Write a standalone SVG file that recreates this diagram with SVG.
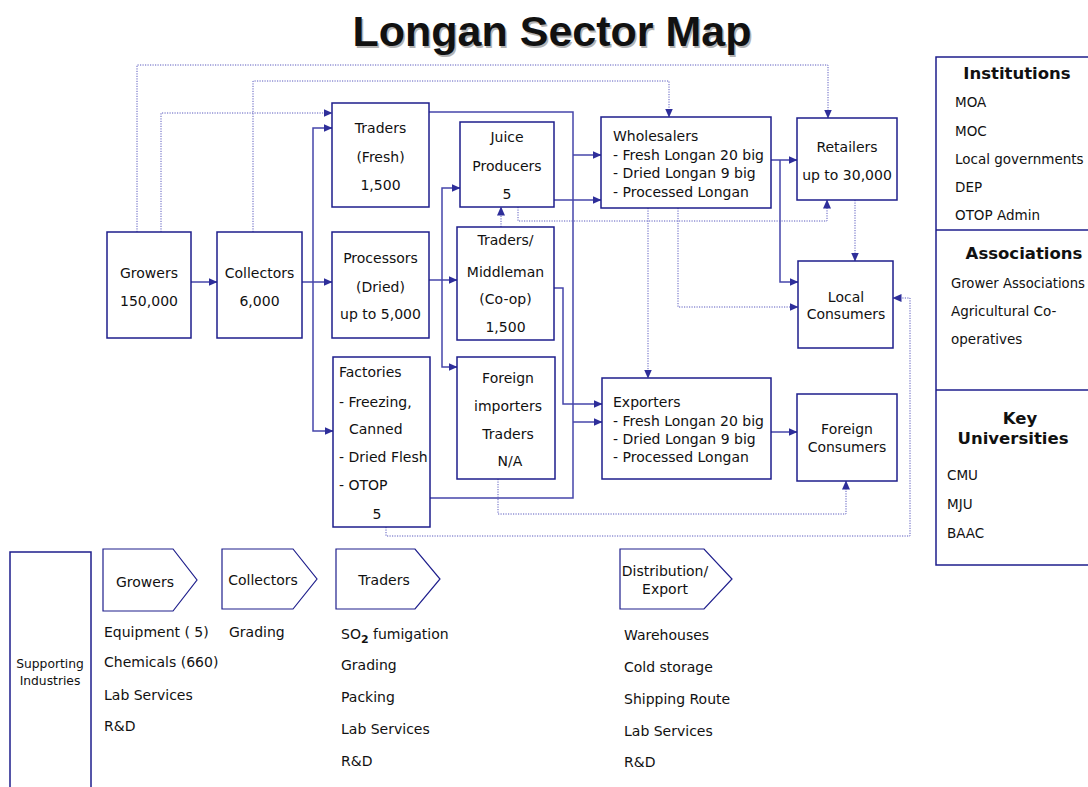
<svg xmlns="http://www.w3.org/2000/svg" width="1088" height="787" viewBox="0 0 1088 787">
<style>
text{font-family:"DejaVu Sans",Verdana,sans-serif;font-size:14px;fill:#111}
.c{text-anchor:middle}
.box{fill:#fff;stroke:#1e1e8c;stroke-width:1.5}
.pent{fill:#fff;stroke:#1e1e8c;stroke-width:1.2}
.s{fill:none;stroke:#4646aa;stroke-width:1.5}
.d{fill:none;stroke:#5a5abe;stroke-width:1;stroke-dasharray:1.2 1.3}
.a{marker-end:url(#arr)}
.h{font-weight:bold;font-size:16.5px}
.sm{font-size:12.3px}
.p{font-size:13.5px}
.title{font-family:"Liberation Sans",Arial,sans-serif;font-weight:bold;font-size:43px;text-anchor:middle}
</style>
<defs>
<marker id="arr" markerUnits="userSpaceOnUse" markerWidth="9" markerHeight="8" refX="8.5" refY="4" orient="auto">
<path d="M0,0 L9,4 L0,8 Z" fill="#2e2e9a"/>
</marker>
</defs>
<rect width="1088" height="787" fill="#fff"/>
<text class="title" x="553.5" y="47.5" style="fill:#b4b4b4">Longan Sector Map</text>
<text class="title" x="552" y="46">Longan Sector Map</text>

<g id="connectors">
<path class="s a" d="M191,282 H217"/>
<path class="s a" d="M302,282 H332"/>
<path class="s a" d="M313,282 V128 H332"/>
<path class="s a" d="M313,282 V431 H333"/>
<path class="s" d="M429,112 H573 V498 H430"/>
<path class="s a" d="M573,155 H601"/>
<path class="s a" d="M573,422 H602"/>
<path class="s a" d="M554,200 H601"/>
<path class="s a" d="M429,280 H457"/>
<path class="s a" d="M442,280 V188 H460"/>
<path class="s a" d="M442,280 V367 H457"/>
<path class="s a" d="M554,288 H563 V404 H602"/>
<path class="s a" d="M771,160 H797"/>
<path class="s a" d="M780,160 V282 H798"/>
<path class="s a" d="M771,432 H797"/>
<path class="d a" d="M137,232 V65 H828 V118"/>
<path class="d a" d="M161,232 V113 H332"/>
<path class="d a" d="M253,232 V81 H669 V117"/>
<path class="d a" d="M518,207 V221 H827 V200"/>
<path class="d a" d="M501,227 V207"/>
<path class="d a" d="M648,208 V378"/>
<path class="d a" d="M678,208 V307 H798"/>
<path class="d a" d="M855,200 V261"/>
<path class="d a" d="M498,479 V514 H846 V481"/>
<path class="d a" d="M386,527 V536 H910 V298 H893"/>
</g>

<g id="growers">
<rect class="box" x="107" y="232" width="84" height="106"/>
<text class="c" x="149" y="278">Growers</text>
<text class="c" x="149" y="306">150,000</text>
</g>
<g id="collectors">
<rect class="box" x="217" y="232" width="85" height="106"/>
<text class="c" x="259.5" y="278">Collectors</text>
<text class="c" x="259.5" y="306">6,000</text>
</g>
<g id="traders-fresh">
<rect class="box" x="332" y="103" width="97" height="104"/>
<text class="c" x="380.5" y="133">Traders</text>
<text class="c" x="380.5" y="162">(Fresh)</text>
<text class="c" x="380.5" y="190">1,500</text>
</g>
<g id="processors">
<rect class="box" x="332" y="232" width="97" height="106"/>
<text class="c" x="380.5" y="263">Processors</text>
<text class="c" x="380.5" y="292">(Dried)</text>
<text class="c" x="380.5" y="319">up to 5,000</text>
</g>
<g id="factories">
<rect class="box" x="333" y="357" width="97" height="170"/>
<text x="339" y="377">Factories</text>
<text x="339" y="407">- Freezing,</text>
<text x="349" y="434">Canned</text>
<text x="339" y="462">- Dried Flesh</text>
<text x="339" y="490">- OTOP</text>
<text class="c" x="377" y="519">5</text>
</g>
<g id="juice">
<rect class="box" x="460" y="122" width="94" height="85"/>
<text class="c" x="507" y="142">Juice</text>
<text class="c" x="507" y="171">Producers</text>
<text class="c" x="507" y="199">5</text>
</g>
<g id="middleman">
<rect class="box" x="457" y="227" width="97" height="113"/>
<text class="c" x="505.5" y="245">Traders/</text>
<text class="c" x="505.5" y="277">Middleman</text>
<text class="c" x="505.5" y="304">(Co-op)</text>
<text class="c" x="505.5" y="332">1,500</text>
</g>
<g id="foreign-importers">
<rect class="box" x="457" y="357" width="98" height="122"/>
<text class="c" x="508" y="383">Foreign</text>
<text class="c" x="508" y="411">importers</text>
<text class="c" x="508" y="439">Traders</text>
<text class="c" x="510" y="466">N/A</text>
</g>
<g id="wholesalers">
<rect class="box" x="601" y="117" width="170" height="91"/>
<text x="613" y="141">Wholesalers</text>
<text x="613" y="160">- Fresh Longan 20 big</text>
<text x="613" y="178">- Dried Longan 9 big</text>
<text x="613" y="197">- Processed Longan</text>
</g>
<g id="exporters">
<rect class="box" x="602" y="378" width="169" height="101"/>
<text x="613" y="407">Exporters</text>
<text x="613" y="426">- Fresh Longan 20 big</text>
<text x="613" y="444">- Dried Longan 9 big</text>
<text x="613" y="462">- Processed Longan</text>
</g>
<g id="retailers">
<rect class="box" x="797" y="118" width="100" height="82"/>
<text class="c" x="847" y="152">Retailers</text>
<text class="c" x="847" y="180">up to 30,000</text>
</g>
<g id="local-consumers">
<rect class="box" x="798" y="261" width="95" height="87"/>
<text class="c" x="846" y="302">Local</text>
<text class="c" x="846" y="319">Consumers</text>
</g>
<g id="foreign-consumers">
<rect class="box" x="797" y="394" width="100" height="87"/>
<text class="c" x="847" y="434">Foreign</text>
<text class="c" x="847" y="452">Consumers</text>
</g>

<g id="institutions-panel">
<rect class="box" x="936" y="57" width="170" height="508"/>
<line class="box" x1="936" y1="230" x2="1088" y2="230"/>
<line class="box" x1="936" y1="390" x2="1088" y2="390"/>
<text class="c h" x="1017" y="79">Institutions</text>
<text class="p" x="955" y="107">MOA</text>
<text class="p" x="955" y="136">MOC</text>
<text class="p" x="955" y="164">Local governments</text>
<text class="p" x="955" y="192">DEP</text>
<text class="p" x="955" y="220">OTOP Admin</text>
<text class="c h" x="1024" y="259">Associations</text>
<text x="951" y="288" style="font-size:13.2px">Grower Associations</text>
<text class="p" x="951" y="316">Agricultural Co-</text>
<text class="p" x="951" y="344">operatives</text>
<text class="c h" x="1020" y="424">Key</text>
<text class="c h" x="1013" y="444">Universities</text>
<text class="p" x="947" y="480">CMU</text>
<text class="p" x="947" y="509">MJU</text>
<text class="p" x="947" y="538">BAAC</text>
</g>

<g id="supporting">
<rect class="box" x="10" y="552" width="81" height="260"/>
<text class="c sm" x="50" y="668">Supporting</text>
<text class="c sm" x="50" y="685">Industries</text>
</g>
<g id="stage-growers">
<path class="pent" d="M103,549 H173 L197,580 L173,611 H103 Z"/>
<text class="c" x="145" y="587">Growers</text>
<text x="104" y="637">Equipment ( 5)</text>
<text x="104" y="667">Chemicals (660)</text>
<text x="104" y="700">Lab Services</text>
<text x="104" y="731">R&amp;D</text>
</g>
<g id="stage-collectors">
<path class="pent" d="M222,549 H293 L317,579 L293,609 H222 Z"/>
<text class="c" x="263" y="585">Collectors</text>
<text x="229" y="637">Grading</text>
</g>
<g id="stage-traders">
<path class="pent" d="M336,549 H415 L440,579 L415,609 H336 Z"/>
<text class="c" x="384" y="585">Traders</text>
<text x="341" y="639">SO<tspan dy="4" font-size="11" font-weight="bold">2</tspan><tspan dy="-4"> fumigation</tspan></text>
<text x="341" y="670">Grading</text>
<text x="341" y="702">Packing</text>
<text x="341" y="734">Lab Services</text>
<text x="341" y="766">R&amp;D</text>
</g>
<g id="stage-distribution">
<path class="pent" d="M620,549 H704 L732,579 L704,609 H620 Z"/>
<text class="c" x="665" y="576">Distribution/</text>
<text class="c" x="665" y="594">Export</text>
<text x="624" y="640">Warehouses</text>
<text x="624" y="672">Cold storage</text>
<text x="624" y="704">Shipping Route</text>
<text x="624" y="736">Lab Services</text>
<text x="624" y="767">R&amp;D</text>
</g>
</svg>
